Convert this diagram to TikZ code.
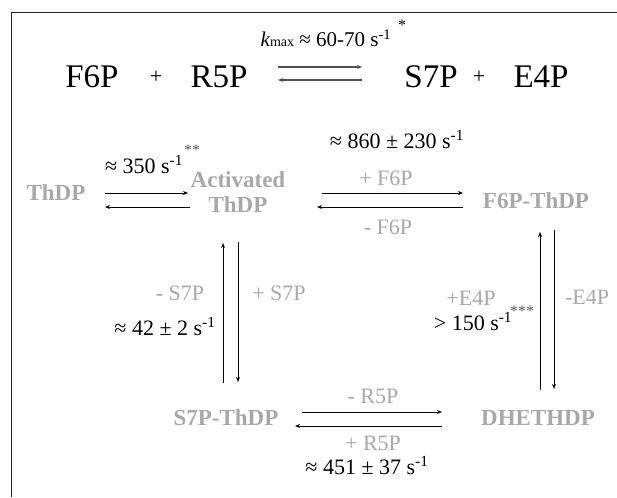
\documentclass[tikz,border=0pt]{standalone}
\usepackage{fontspec}
\setmainfont{Liberation Serif}
\usetikzlibrary{arrows.meta}
\definecolor{lblgray}{RGB}{168,168,168}
\definecolor{stargray}{RGB}{90,90,90}
\definecolor{toparr}{RGB}{80,80,80}
\tikzset{
  main/.style={anchor=base, inner sep=0pt, font=\fontsize{33}{33}\selectfont},
  mainplus/.style={anchor=base, inner sep=0pt, font=\fontsize{22}{22}\selectfont},
  species/.style={anchor=base, inner sep=0pt, text=lblgray, font=\fontsize{23}{25}\selectfont\bfseries},
  glabel/.style={anchor=base, inner sep=0pt, text=lblgray, font=\fontsize{22}{22}\selectfont},
  rate/.style={anchor=base, inner sep=0pt, font=\fontsize{22}{22}\selectfont},
  star/.style={inner sep=0pt, text=stargray, font=\fontsize{16}{16}\selectfont},
  arr/.style={line width=1pt, draw=black, -{Stealth[length=5pt,width=4pt]}},
  tarr/.style={line width=1.3pt, draw=toparr, -{Stealth[length=5pt,width=4pt]}},
  frame/.style={line width=1.5pt, draw=black!85}
}
\begin{document}
\begin{tikzpicture}[x=1pt,y=-1pt]
\useasboundingbox (0,0) rectangle (617,497);
\draw[frame] (11.5,497) -- (11.5,12.5) -- (617,12.5);

% overall reaction
\node[main] (f6p) at (92,88) {F6P};
\node[mainplus] (plus1) at (156,84) {+};
\node[main] (r5p) at (219,88) {R5P};
\node[main] (s7p) at (431,88) {S7P};
\node[mainplus] (plus2) at (479,84) {+};
\node[main] (e4p) at (541,88) {E4P};
\node[anchor=base, inner sep=0pt, font=\fontsize{21}{21}\selectfont] (kmax) at (326,47)
  {{\itshape k}{\fontsize{14}{14}\selectfont max} ≈ 60-70 s\textsuperscript{-1}};
\node[star, text=black] (star1) at (402,25) {*};
\draw[tarr] ([xshift=59pt,yshift=21pt]r5p.base) -- ([xshift=-69pt,yshift=21pt]s7p.base);
\draw[tarr] ([xshift=-69pt,yshift=8pt]s7p.base) -- ([xshift=59pt,yshift=8pt]r5p.base);

% species
\node[species] (thdp) at (56,200) {ThDP};
\node[species, align=center, anchor=center] (act) at (238,192) {Activated\\ThDP};
\node[species] (f6pthdp) at (536,208) {F6P-ThDP};
\node[species] (s7pthdp) at (226,425) {S7P-ThDP};
\node[species] (dhethdp) at (538,425) {DHETHDP};

% ThDP <-> Activated ThDP
\node[rate] (r350) at (144,173) {≈ 350 s\textsuperscript{-1}};
\node[star] (star2) at (192,150) {**};
\draw[arr] ([xshift=49pt,yshift=7pt]thdp.base) -- ([xshift=-50pt,yshift=-1pt]act.center);
\draw[arr] ([xshift=-48pt,yshift=-15pt]act.center) -- ([xshift=49pt,yshift=-7pt]thdp.base);

% Activated ThDP <-> F6P-ThDP
\node[rate] (r860) at (397,148) {≈ 860 ± 230 s\textsuperscript{-1}};
\node[glabel] (pf6p) at (386,185) {+ F6P};
\node[glabel] (mf6p) at (388,234) {- F6P};
\draw[arr] ([xshift=84pt,yshift=-1pt]act.center) -- ([xshift=-73pt,yshift=15pt]f6pthdp.base);
\draw[arr] ([xshift=-73pt,yshift=1pt]f6pthdp.base) -- ([xshift=79pt,yshift=-15pt]act.center);

% Activated ThDP <-> S7P-ThDP
\node[glabel] (ms7p) at (180,300) {- S7P};
\node[glabel] (ps7p) at (279,300) {+ S7P};
\node[rate] (r42) at (165,335) {≈ 42 ± 2 s\textsuperscript{-1}};
\draw[arr] ([xshift=-3pt,yshift=42pt]s7pthdp.base) -- ([xshift=-15pt,yshift=-51pt]act.center);
\draw[arr] ([xshift=0pt,yshift=-50pt]act.center) -- ([xshift=12pt,yshift=43pt]s7pthdp.base);

% F6P-ThDP <-> DHETHDP
\node[glabel] (pe4p) at (471,305) {+E4P};
\node[glabel] (me4p) at (587,304) {-E4P};
\node[rate] (r150) at (473,330) {> 150 s\textsuperscript{-1}};
\node[star] (star3) at (522,311) {***};
\draw[arr] ([xshift=2pt,yshift=35pt]dhethdp.base) -- ([xshift=4pt,yshift=-24pt]f6pthdp.base);
\draw[arr] ([xshift=18pt,yshift=-22pt]f6pthdp.base) -- ([xshift=16pt,yshift=36pt]dhethdp.base);

% S7P-ThDP <-> DHETHDP
\node[glabel] (mr5p) at (373,403) {- R5P};
\node[glabel] (pr5p) at (373,450) {+ R5P};
\node[rate] (r451) at (367,474) {≈ 451 ± 37 s\textsuperscript{-1}};
\draw[arr] ([xshift=76pt,yshift=13pt]s7pthdp.base) -- ([xshift=-96pt,yshift=13pt]dhethdp.base);
\draw[arr] ([xshift=-96pt,yshift=-1pt]dhethdp.base) -- ([xshift=69pt,yshift=-1pt]s7pthdp.base);
\end{tikzpicture}
\end{document}
